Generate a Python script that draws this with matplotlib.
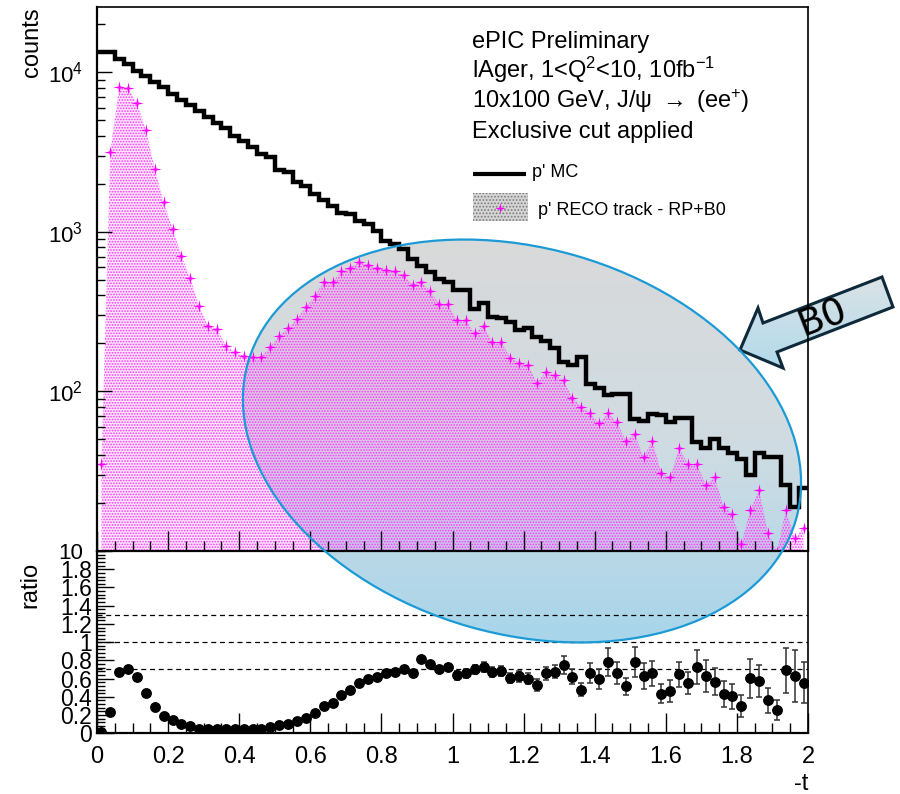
import numpy as np
import matplotlib
matplotlib.use('Agg')
import matplotlib.pyplot as plt
from matplotlib.patches import Ellipse, Polygon, Rectangle
from matplotlib.ticker import FixedLocator, MultipleLocator, FuncFormatter, LogLocator, NullFormatter
from matplotlib.colors import LinearSegmentedColormap

plt.rcParams['font.family'] = ['Liberation Sans', 'DejaVu Sans']
plt.rcParams['mathtext.fontset'] = 'custom'
plt.rcParams['mathtext.rm'] = 'Liberation Sans'
plt.rcParams['mathtext.it'] = 'Liberation Sans:italic'
plt.rcParams['mathtext.default'] = 'regular'
plt.rcParams['hatch.linewidth'] = 0.8

# -t binning: 80 bins from 0 to 2
t_edges = np.linspace(0, 2, 81)
t_centers = 0.5 * (t_edges[:-1] + t_edges[1:])

# p' MC counts per bin
mc_counts = [13520, 13400, 12160, 11320, 10260, 9550, 8750, 8070, 7310, 6700,
             6240, 5740, 5260, 4850, 4450, 3990, 3700, 3400, 3090, 2940,
             2430, 2390, 2050, 1950, 1730, 1585, 1460, 1320, 1295, 1170,
             1120, 1015, 877, 836, 778, 673, 611, 562, 510, 484,
             435, 430, 330, 358, 295, 290, 274, 243, 249, 221,
             207, 186, 153, 146, 165, 112, 105, 95, 96, 97,
             67, 65, 72, 71, 64, 68, 68, 48, 44, 50,
             44, 41, 38, 30, 41, 39, 39, 26, 19, 25]

# p' RECO track (RP+B0) counts per bin
reco_counts = [35, 3160, 8130, 8020, 6400, 4340, 2490, 1530, 1050, 706,
               515, 341, 258, 247, 193, 177, 167, 165, 165, 191,
               223, 249, 285, 337, 396, 485, 485, 568, 596, 647,
               617, 596, 578, 568, 536, 468, 484, 425, 353, 353,
               279, 279, 232, 259, 203, 203, 163, 151, 146, 113,
               133, 126, 118, 91, 80, 73, 63, 73, 64, 49,
               54, 39, 49, 31, 29, 44, 35, 35, 26, 29,
               19, 17, 11, 18, 24, 13, 9.9, 18, 12, 14]

# RECO / MC ratio and its errors
ratio = [0.01, 0.233, 0.672, 0.71, 0.62, 0.444, 0.284, 0.195, 0.144, 0.107,
         0.081, 0.051, 0.048, 0.051, 0.044, 0.044, 0.044, 0.048, 0.051, 0.066,
         0.088, 0.107, 0.14, 0.166, 0.222, 0.303, 0.333, 0.421, 0.473, 0.547,
         0.591, 0.617, 0.658, 0.672, 0.71, 0.665, 0.813, 0.758, 0.702, 0.728,
         0.636, 0.658, 0.702, 0.732, 0.672, 0.684, 0.61, 0.628, 0.599, 0.528,
         0.658, 0.677, 0.75, 0.621, 0.48, 0.658, 0.599, 0.783, 0.665, 0.514,
         0.783, 0.628, 0.658, 0.436, 0.462, 0.647, 0.555, 0.728, 0.628, 0.566,
         0.432, 0.406, 0.295, 0.602, 0.573, 0.362, 0.255, 0.691, 0.628, 0.555]

ratio_err = [0.005] * 20 + [0.015] * 14 + [0.03] * 6 + \
            [0.05, 0.05, 0.05, 0.055, 0.05, 0.055, 0.055, 0.06, 0.06, 0.065,
             0.07, 0.075, 0.1, 0.08, 0.075, 0.11, 0.11, 0.15, 0.12, 0.09,
             0.16, 0.14, 0.14, 0.105, 0.12, 0.14, 0.12, 0.185, 0.175, 0.15,
             0.14, 0.14, 0.12, 0.21, 0.175, 0.14, 0.11, 0.25, 0.285, 0.225]

header_lines = ['ePIC Preliminary',
                'lAger, 1<Q$^{2}$<10, 10fb$^{-1}$',
                '10x100 GeV, J/\u03c8 $\\rightarrow$ (ee$^{+}$)',
                'Exclusive cut applied']

# thin four-pointed star, like the ROOT marker
star = [(0, 1), (0.16, 0.16), (1, 0), (0.16, -0.16), (0, -1), (-0.16, -0.16),
        (-1, 0), (-0.16, 0.16), (0, 1)]

W, H = 900, 794
fig = plt.figure(figsize=(9, 7.94), dpi=100)

# background overlay in pixel coordinates (y down): highlight ellipse + arrow
bg = fig.add_axes([0, 0, 1, 1], zorder=0)
bg.axis('off')

ell_cmap = LinearSegmentedColormap.from_list('ell', ['#d9d9d9', '#d0dce2', '#a6d5eb'])
grad = np.linspace(0, 1, 256).reshape(-1, 1)
ell = Ellipse((522, 441), 570, 386, angle=16, facecolor='none', edgecolor='none')
bg.add_patch(ell)
im = bg.imshow(grad, cmap=ell_cmap, extent=(220, 820, 650, 235), aspect='auto',
               interpolation='bilinear')
im.set_clip_path(ell)

arrow_pts = [(740, 350), (758, 308), (763, 323), (882, 277), (893, 307), (777, 352), (783, 368)]
arr_cmap = LinearSegmentedColormap.from_list('arr', ['#dde3e6', '#b0d9eb'])
arrow = Polygon(arrow_pts, closed=True, facecolor='none', edgecolor='#0e2a3a', lw=2.2,
                joinstyle='miter', zorder=3)
bg.add_patch(arrow)
im2 = bg.imshow(grad, cmap=arr_cmap, extent=(735, 900, 372, 272), aspect='auto',
                interpolation='bilinear')
im2.set_clip_path(arrow)
bg.text(823, 318, 'B0', rotation=21, fontsize=27, ha='center', va='center',
        family='DejaVu Sans', color='black', zorder=4)
bg.set_xlim(0, W)
bg.set_ylim(H, 0)

# upper pad
ax1 = fig.add_axes([97 / W, 1 - 551 / H, 711 / W, 544 / H], zorder=1)
ax1.set_facecolor('none')
ax1.fill_between(t_centers, reco_counts, 1, facecolor=(0.98, 0.55, 0.98, 0.22),
                 edgecolor='#ff33ff', hatch='......', linewidth=0)
ax1.plot(t_centers, reco_counts, ls='none', marker=star, ms=9, color='#ff00ff', mew=0)
ax1.stairs(mc_counts, t_edges, baseline=None, color='black', lw=3.2)
ax1.set_yscale('log')
ax1.set_xlim(0, 2)
ax1.set_ylim(10, 2.57e4)
ax1.yaxis.set_major_locator(FixedLocator([10, 100, 1000, 10000]))
ax1.yaxis.set_major_formatter(FuncFormatter(
    lambda v, p: '10' if v < 50 else '$10^{%d}$' % round(np.log10(v))))
ax1.yaxis.set_minor_locator(LogLocator(base=10, subs=np.arange(2, 10)))
ax1.yaxis.set_minor_formatter(NullFormatter())
ax1.xaxis.set_major_locator(MultipleLocator(0.2))
ax1.xaxis.set_minor_locator(MultipleLocator(0.05))
ax1.tick_params(axis='x', which='both', direction='in', labelbottom=False)
ax1.tick_params(axis='x', which='major', length=14.4, width=1)
ax1.tick_params(axis='x', which='minor', length=7.2, width=1)
ax1.tick_params(axis='y', which='major', direction='in', length=10.8, width=1,
                labelsize=16, pad=10)
ax1.tick_params(axis='y', which='minor', direction='in', length=5.8, width=1)
for s in ax1.spines.values():
    s.set_linewidth(1.2)
ax1.spines['left'].set_linewidth(1.6)
ax1.spines['bottom'].set_linewidth(1.6)

# lower pad: ratio
ax2 = fig.add_axes([97 / W, 1 - 733.3 / H, 711 / W, (733.3 - 551) / H], zorder=1)
ax2.set_facecolor('none')
for lvl in (0.7, 1.0, 1.3):
    ax2.axhline(lvl, color='black', ls=(0, (4, 3)), lw=0.9)
ax2.errorbar(t_centers, ratio, yerr=ratio_err, fmt='o', color='black', ms=6.8,
             ecolor='#333333', elinewidth=1.1, capsize=2.2, capthick=1.1)
ax2.set_xlim(0, 2)
ax2.set_ylim(0, 2)
ax2.yaxis.set_major_locator(FixedLocator(np.arange(0, 1.81, 0.2)))
ax2.yaxis.set_minor_locator(MultipleLocator(0.04))
ax2.xaxis.set_major_locator(MultipleLocator(0.2))
ax2.xaxis.set_minor_locator(MultipleLocator(0.05))
fmt = FuncFormatter(lambda v, p: '%g' % round(v, 2))
ax2.xaxis.set_major_formatter(fmt)
ax2.yaxis.set_major_formatter(fmt)
ax2.tick_params(axis='x', which='major', direction='in', length=14.4, width=1,
                labelsize=17, pad=9)
ax2.tick_params(axis='x', which='minor', direction='in', length=7.2, width=1)
ax2.tick_params(axis='y', which='major', direction='in', length=12, width=1,
                labelsize=16.5, pad=3.5)
ax2.tick_params(axis='y', which='minor', direction='in', length=6, width=1)
for s in ax2.spines.values():
    s.set_linewidth(1.2)
ax2.spines['left'].set_linewidth(1.6)
ax2.spines['bottom'].set_linewidth(1.6)

# foreground overlay: ellipse outline, titles, legend
top = fig.add_axes([0, 0, 1, 1], zorder=2)
top.axis('off')
top.set_xlim(0, W)
top.set_ylim(H, 0)
top.add_patch(Ellipse((522, 441), 570, 386, angle=16, fill=False,
                      edgecolor='#1b9ad6', lw=1.6))

for i, line in enumerate(header_lines):
    top.text(472, 48 + i * 30, line, fontsize=17, va='baseline', ha='left')

top.plot([473, 526], [174, 174], color='black', lw=3, solid_capstyle='butt')
top.text(532, 177, "p' MC", fontsize=13, va='baseline')
top.add_patch(Rectangle((473, 193), 55, 28, facecolor='#d4d4d4', edgecolor='#7a7a7a',
                        hatch='.....', lw=0))
top.plot([500], [208], ls='none', marker=star, ms=8, color='#ff00ff', mew=0)
top.text(538, 215, "p' RECO track - RP+B0", fontsize=13, va='baseline')

top.text(32, 7, 'counts', rotation=90, fontsize=17, ha='center', va='top')
top.text(30, 562, 'ratio', rotation=90, fontsize=17, ha='center', va='top')
top.text(808, 790, '-t', fontsize=17, ha='right', va='baseline')

fig.savefig('out.png', dpi=100)
